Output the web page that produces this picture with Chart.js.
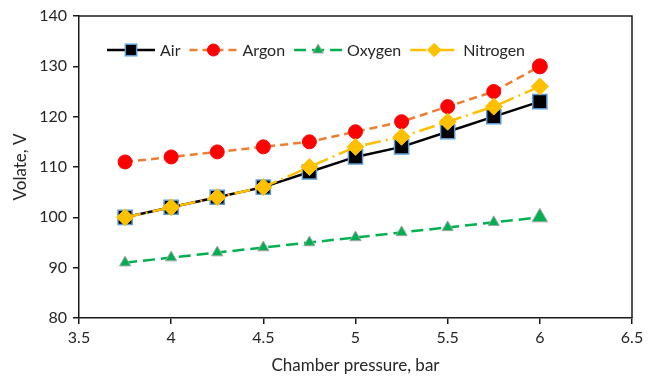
<!DOCTYPE html>
<html>
<head>
<meta charset="utf-8">
<script src="https://cdn.jsdelivr.net/npm/chart.js@4/dist/chart.umd.min.js"></script>
<style>
  html, body { margin: 0; padding: 0; background: #fff; }
  canvas { display: block; }
</style>
</head>
<body>
<canvas id="chart" width="654" height="379"></canvas>
<script>
// Measured series: discharge voltage against chamber pressure
const pressure = [3.75, 4, 4.25, 4.5, 4.75, 5, 5.25, 5.5, 5.75, 6];
const air      = [100, 102, 104, 106, 109, 112, 114, 117, 120, 123];
const argon    = [111, 112, 113, 114, 115, 117, 119, 122, 125, 130];
const oxygen   = [91, 92, 93, 94, 95, 96, 97, 98, 99, 100];
const nitrogen = [100, 102, 104, 106, 110, 114, 116, 119, 122, 126];

const xTickValues = [3.5, 4, 4.5, 5, 5.5, 6, 6.5];
const yTickValues = [80, 90, 100, 110, 120, 130, 140];
const seriesNames = ['Air', 'Argon', 'Oxygen', 'Nitrogen'];

const FONT = 'Lato, "Open Sans", sans-serif';
const TEXT = '#262626';

const toPoints = ys => pressure.map((x, i) => ({ x: x, y: ys[i] }));

const datasets = [
  {
    label: seriesNames[0],
    data: toPoints(air),
    borderColor: '#000000',
    borderWidth: 2.5,
    pointStyle: 'rect',
    pointRadius: 10,
    pointBackgroundColor: '#000000',
    pointBorderColor: '#5b9bd5',
    pointBorderWidth: 1.5,
    order: 4
  },
  {
    label: seriesNames[1],
    data: toPoints(argon),
    borderColor: '#ed7d31',
    borderWidth: 2.5,
    borderDash: [8, 5],
    pointStyle: 'circle',
    pointRadius: ctx => ctx.dataIndex === pressure.length - 1 ? 7.5 : 7,
    pointBackgroundColor: '#ff0000',
    pointBorderColor: '#ff0000',
    pointBorderWidth: 1,
    order: 2
  },
  {
    label: seriesNames[2],
    data: toPoints(oxygen),
    borderColor: '#00b050',
    borderWidth: 2.5,
    borderDash: [12, 6],
    pointStyle: 'triangle',
    pointRadius: ctx => ctx.dataIndex === pressure.length - 1 ? 9 : 6.5,
    pointBackgroundColor: '#00b050',
    pointBorderColor: '#a5a5a5',
    pointBorderWidth: 1,
    order: 3
  },
  {
    label: seriesNames[3],
    data: toPoints(nitrogen),
    borderColor: '#ffc000',
    borderWidth: 2.5,
    borderDash: [16, 5, 2, 5],
    pointStyle: 'rectRot',
    pointRadius: 8.5,
    pointBackgroundColor: '#ffc000',
    pointBorderColor: '#ffc000',
    pointBorderWidth: 1,
    order: 1
  }
];

// Frame on the top and right edges of the plotting area
const framePlugin = {
  id: 'frame',
  beforeDatasetsDraw(chart) {
    const { ctx, chartArea: a } = chart;
    ctx.save();
    ctx.strokeStyle = '#1a1a1a';
    ctx.lineWidth = 1.5;
    ctx.beginPath();
    ctx.moveTo(a.left, a.top);
    ctx.lineTo(a.right, a.top);
    ctx.lineTo(a.right, a.bottom);
    ctx.stroke();
    ctx.restore();
  }
};

// Legend row inside the plot: line sample with its marker, then the name
const inlineLegend = {
  id: 'inlineLegend',
  afterDraw(chart) {
    const { ctx, chartArea: a } = chart;
    const y = a.top + 34;
    const lineLen = 48, gapText = 5, gapItem = 9;
    let x = a.left + 28;
    ctx.save();
    ctx.font = '16px ' + FONT;
    ctx.textBaseline = 'middle';
    ctx.fillStyle = TEXT;
    chart.data.datasets.forEach(ds => {
      ctx.save();
      ctx.strokeStyle = ds.borderColor;
      ctx.lineWidth = ds.borderWidth;
      ctx.setLineDash(ds.borderDash || []);
      ctx.beginPath();
      ctx.moveTo(x, y);
      ctx.lineTo(x + lineLen, y);
      ctx.stroke();
      ctx.setLineDash([]);
      const r = typeof ds.pointRadius === 'function' ? 6 : ds.pointRadius * 0.8;
      ctx.fillStyle = ds.pointBackgroundColor;
      ctx.strokeStyle = ds.pointBorderColor;
      ctx.lineWidth = ds.pointBorderWidth;
      Chart.helpers.drawPoint(ctx, { pointStyle: ds.pointStyle, radius: r, borderWidth: ds.pointBorderWidth, rotation: 0 }, x + lineLen / 2, y);
      ctx.restore();
      ctx.fillText(ds.label, x + lineLen + gapText, y + 1);
      x += lineLen + gapText + ctx.measureText(ds.label).width + gapItem;
    });
    ctx.restore();
  }
};

new Chart(document.getElementById('chart'), {
  type: 'line',
  data: { datasets: datasets },
  options: {
    responsive: false,
    animation: false,
    layout: { padding: { left: 0, top: 16, right: 22, bottom: 0 } },
    elements: { line: { tension: 0 } },
    plugins: {
      legend: { display: false },
      tooltip: { enabled: false }
    },
    scales: {
      x: {
        type: 'linear',
        min: 3.5,
        max: 6.5,
        afterBuildTicks: s => { s.ticks = xTickValues.map(v => ({ value: v })); },
        afterFit: s => { s.height = 61; },
        border: { display: true, color: '#1a1a1a', width: 1.5 },
        grid: { display: true, drawOnChartArea: false, drawTicks: true, tickLength: 6, color: '#1a1a1a', lineWidth: 1.5 },
        ticks: { color: TEXT, font: { family: FONT, size: 16 }, padding: 4, maxRotation: 0, callback: v => String(v) },
        title: { display: true, text: 'Chamber pressure, bar', color: TEXT, font: { family: FONT, size: 17, lineHeight: 1 }, padding: { top: 0, bottom: 5 } }
      },
      y: {
        type: 'linear',
        min: 80,
        max: 140,
        afterBuildTicks: s => { s.ticks = yTickValues.map(v => ({ value: v })); },
        afterFit: s => { s.width = 79; },
        border: { display: true, color: '#1a1a1a', width: 1.5 },
        grid: { display: true, drawOnChartArea: false, drawTicks: true, tickLength: 6, color: '#1a1a1a', lineWidth: 1.5 },
        ticks: { color: TEXT, font: { family: FONT, size: 16 }, padding: 6, callback: v => String(v) },
        title: { display: true, text: 'Volate, V', color: TEXT, font: { family: FONT, size: 17, lineHeight: 1 }, padding: { top: 12, bottom: 0 } }
      }
    }
  },
  plugins: [framePlugin, inlineLegend]
});
</script>
</body>
</html>
